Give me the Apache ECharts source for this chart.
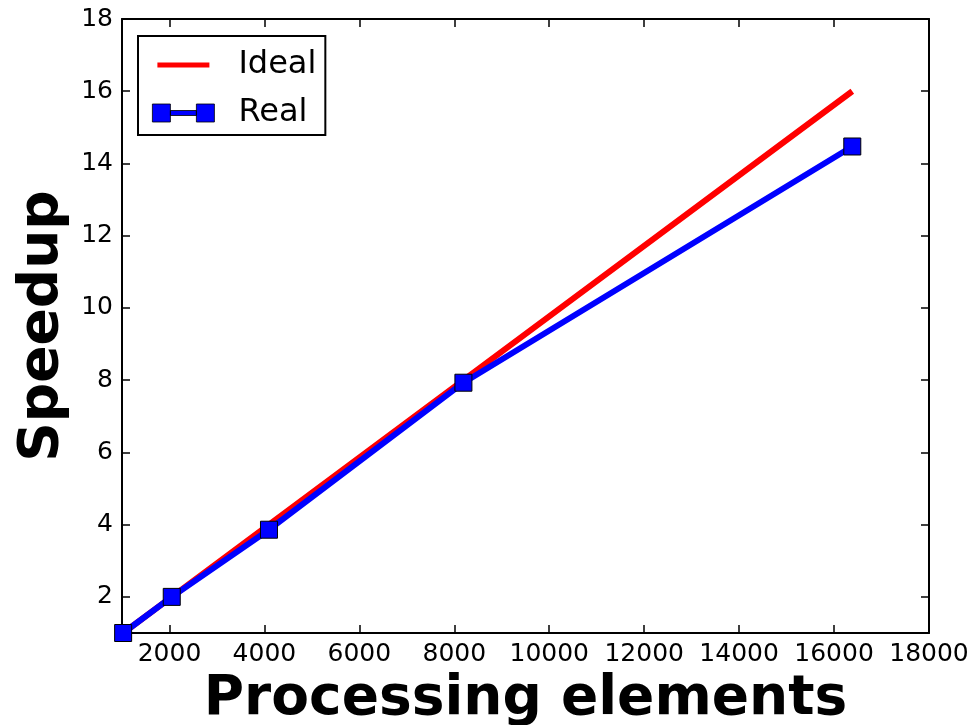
<!DOCTYPE html>
<html>
<head>
    <meta charset="utf-8">
    <title>Speedup</title>
    <script src="https://cdn.jsdelivr.net/npm/echarts@6/dist/echarts.min.js"></script>
    <style>
        html, body { margin: 0; padding: 0; background: #fff; }
    </style>
</head>
<body>
<div id="main" style="width: 973px;height:725px;"></div>
<script type="text/javascript">
    // data
    const elements = [1024, 2048, 4096, 8192, 16384];
    const ideal = [1, 2, 4, 8, 16];
    const real = [1.0, 2.0, 3.86, 7.93, 14.47];
    const xTicks = [2000, 4000, 6000, 8000, 10000, 12000, 14000, 16000, 18000];
    const yTicks = [2, 4, 6, 8, 10, 12, 14, 16, 18];

    const font = 'DejaVu Sans';

    function pairs(xs, ys) {
        return xs.map(function (x, i) { return [x, ys[i]]; });
    }

    function frameAxis(pos, min, max, ticks, withLabels, extra) {
        return Object.assign({
            type: 'value',
            position: pos,
            min: min,
            max: max,
            splitLine: { show: false },
            axisLine: { show: true, onZero: false, lineStyle: { color: '#000', width: 2 } },
            axisTick: { show: true, inside: true, length: 8, customValues: ticks,
                lineStyle: { color: '#000', width: 1.5 } },
            axisLabel: { show: withLabels, customValues: ticks, color: '#000',
                fontFamily: font, fontSize: 25, margin: 9,
                formatter: function (v) { return String(v); } }
        }, extra || {});
    }

    let myChart = echarts.init(document.getElementById('main'));

    myChart.setOption({
        animation: false,
        textStyle: { fontFamily: font },
        grid: { left: 122, top: 19, right: 44, bottom: 92, outerBoundsMode: 'none', containLabel: false },
        legend: {
            left: 138,
            top: 36,
            orient: 'vertical',
            backgroundColor: '#fff',
            borderColor: '#000',
            borderWidth: 2,
            borderRadius: 0,
            padding: [13, 9, 6, 14],
            itemWidth: 62,
            itemHeight: 18,
            itemGap: 16,
            textStyle: { fontFamily: font, fontSize: 32, color: '#000', padding: [0, 0, 0, 19] },
            data: [
                { name: 'Ideal', icon: 'path://M0,0M62,18M5,6.5h52v5h-52z' },
                { name: 'Real', icon: 'path://M0,0h18v18h-18zM18,6.5h26v5h-26zM44,0h18v18h-18z',
                  itemStyle: { borderColor: '#000', borderWidth: 0.8 } }
            ]
        },
        xAxis: [
            frameAxis('bottom', 1000, 18000, xTicks, true, {
                name: 'Processing elements',
                nameLocation: 'middle',
                nameGap: 35,
                nameTextStyle: { fontFamily: font, fontSize: 55, fontWeight: 'bold', color: '#000' }
            }),
            frameAxis('top', 1000, 18000, xTicks, false)
        ],
        yAxis: [
            frameAxis('left', 1, 18, yTicks, true, {
                name: 'Speedup',
                nameLocation: 'middle',
                nameGap: 51,
                nameRotate: 90,
                nameTextStyle: { fontFamily: font, fontSize: 55, fontWeight: 'bold', color: '#000' }
            }),
            frameAxis('right', 1, 18, yTicks, false)
        ],
        series: [
            {
                name: 'Ideal',
                type: 'line',
                xAxisIndex: 0,
                yAxisIndex: 0,
                data: pairs(elements, ideal),
                showSymbol: false,
                symbol: 'none',
                color: '#ff0000',
                lineStyle: { color: '#ff0000', width: 6 }
            },
            {
                name: 'Real',
                type: 'line',
                xAxisIndex: 0,
                yAxisIndex: 0,
                data: pairs(elements, real),
                symbol: 'rect',
                symbolSize: 17,
                color: '#0000ff',
                itemStyle: { color: '#0000ff', borderColor: '#000', borderWidth: 1 },
                lineStyle: { color: '#0000ff', width: 6 }
            }
        ]
    });
</script>
</body>
</html>
